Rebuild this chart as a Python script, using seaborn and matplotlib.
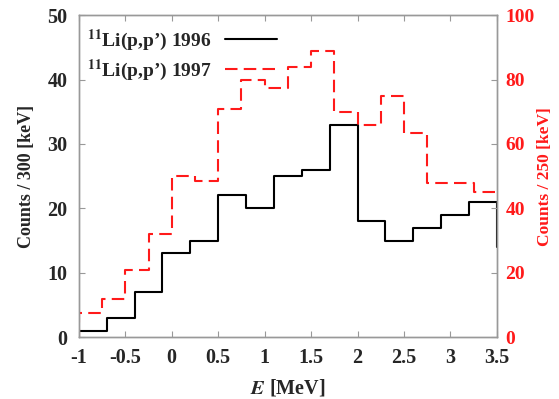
# 11Li(p,p') excitation energy spectra, 1996 vs 1997 runs
import numpy as np
import pandas as pd
import matplotlib
matplotlib.use("Agg")
import matplotlib.pyplot as plt
import seaborn as sns

# Data
# 1996 run: 300 keV bins starting at -1 MeV (last bin clipped at 3.5)
counts_1996 = [1, 3, 7, 13, 15, 22, 20, 25, 26, 33, 18, 15, 17, 19, 21, 14]
edges_1996 = [round(v, 2) for v in np.arange(-1.0, 3.81, 0.3)]

# 1997 run: 250 keV bins, first bin below -1 is empty
counts_1997 = [0, 7.5, 12, 21, 32, 50, 48.5, 71, 80, 77.5, 84, 89, 70, 66, 75, 63.5, 48, 48, 45]
edges_1997 = [round(v, 2) for v in np.arange(-1.25, 3.51, 0.25)]

x_ticks = [-1, -0.5, 0, 0.5, 1, 1.5, 2, 2.5, 3, 3.5]
x_tick_labels = ["-1", "-0.5", "0", "0.5", "1", "1.5", "2", "2.5", "3", "3.5"]

e96 = np.array(edges_1996)
e97 = np.array(edges_1997)
df96 = pd.DataFrame({"E": (e96[:-1] + e96[1:]) / 2, "counts": counts_1996})
df97 = pd.DataFrame({"E": (e97[:-1] + e97[1:]) / 2, "counts": counts_1997})

sns.set_style("ticks")
plt.rcParams["font.family"] = ["Liberation Serif", "DejaVu Serif"]
plt.rcParams["font.weight"] = "bold"
plt.rcParams["mathtext.fontset"] = "stix"
plt.rcParams["xtick.direction"] = "in"
plt.rcParams["ytick.direction"] = "in"

red = "#ff1a1a"
grey = "#999999"

fig = plt.figure(figsize=(5.59, 3.99), dpi=100)
ax = fig.add_axes([0.141, 0.155, 0.748, 0.807])
ax2 = ax.twinx()

sns.histplot(data=df96, x="E", weights="counts", bins=edges_1996, element="step",
             fill=False, color="black", linewidth=1.5, ax=ax)
sns.histplot(data=df97, x="E", weights="counts", bins=edges_1997, element="step",
             fill=False, color=red, linewidth=1.5, linestyle=(0, (6, 3)), ax=ax2)

ax.set_xlim(-1, 3.5)
ax.set_ylim(0, 50)
ax2.set_ylim(0, 100)
ax.set_xticks(x_ticks)
ax.set_xticklabels(x_tick_labels)
ax.set_yticks([0, 10, 20, 30, 40, 50])
ax2.set_yticks([0, 20, 40, 60, 80, 100])

ax.set_xlabel(r"$\mathbfit{E}$ [MeV]", fontsize=14.5, fontweight="bold", labelpad=7)
ax.set_ylabel("Counts / 300 [keV]", fontsize=13, fontweight="bold", labelpad=9)
ax2.set_ylabel("Counts / 250 [keV]", fontsize=12.5, fontweight="bold", color=red, labelpad=2)

for a in (ax, ax2):
    for s in a.spines.values():
        s.set_color(grey)
        s.set_linewidth(1.0)
ax.tick_params(axis="both", which="both", length=4, color=grey, labelsize=14.5, top=True)
ax.tick_params(axis="x", pad=8)
ax.tick_params(axis="y", pad=8)
ax2.tick_params(axis="y", length=4, color=grey, labelsize=14, labelcolor=red, pad=6)
for lab in ax.get_xticklabels() + ax.get_yticklabels() + ax2.get_yticklabels():
    lab.set_fontweight("bold")

handles = [ax.lines[0], ax2.lines[0]]
labels = [r"$\mathbf{^{11}}$Li(p,p’) 1996", r"$\mathbf{^{11}}$Li(p,p’) 1997"]
ax2.legend(handles, labels, loc="upper left", bbox_to_anchor=(0.0, 0.985), frameon=False,
           markerfirst=False, handlelength=2.7, handletextpad=0.7, labelspacing=0.25,
           prop={"size": 14, "weight": "bold"}, borderaxespad=0.0)

fig.savefig("out.png", dpi=100)
